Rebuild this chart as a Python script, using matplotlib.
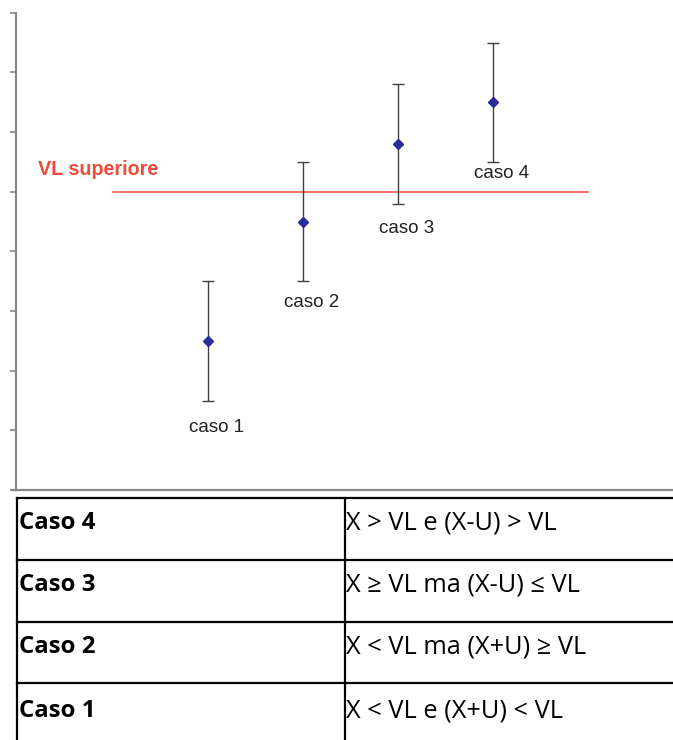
import matplotlib.pyplot as plt
from matplotlib.lines import Line2D

# chart data
cases = [1, 2, 3, 4]
values = [2.5, 4.5, 5.8, 6.5]
uncert = [1.0, 1.0, 1.0, 1.0]
case_labels = ["caso 1", "caso 2", "caso 3", "caso 4"]
label_y = [1.04, 3.15, 4.38, 5.30]
vl_value = 5.0
vl_span = [0, 5]
vl_label = "VL superiore"
y_ticks = list(range(0, 9))

# table data
table_cases = ["Caso 4", "Caso 3", "Caso 2", "Caso 1"]
table_conditions = ["X > VL e (X-U) > VL",
                    "X \u2265 VL ma (X-U) \u2264 VL",
                    "X < VL ma (X+U) \u2265 VL",
                    "X < VL e (X+U) < VL"]

W, H = 673, 740
fig = plt.figure(figsize=(W / 100, H / 100), dpi=100)

def fx(px):
    return px / W

def fy(py):
    return 1 - py / H

ax = fig.add_axes([fx(16), fy(490), fx(673 - 16), (490 - 12.7) / H])
ax.set_xlim(-1.021, 5.895)
ax.set_ylim(0, 8)

axis_col = "#878787"
for s in ["top", "right"]:
    ax.spines[s].set_visible(False)
for s in ["left", "bottom"]:
    ax.spines[s].set_color(axis_col)
    ax.spines[s].set_linewidth(1.6)
ax.set_xticks([])
ax.set_yticks(y_ticks)
ax.set_yticklabels([])
ax.tick_params(axis="y", direction="out", length=4.3, width=1.2, color=axis_col)
# bottom line sticks out a bit left of the y axis
ax.plot([-6 / 657, 0], [0, 0], transform=ax.transAxes, clip_on=False,
        color=axis_col, lw=1.6, solid_capstyle="butt")

red = "#f04a3a"
ax.plot(vl_span, [vl_value, vl_value], color=red, lw=1.1)
ax.text(-0.789, 5.37, vl_label, color=red, fontsize=14.2, fontweight="bold",
        family="Liberation Sans", ha="left", va="center")

ax.errorbar(cases, values, yerr=uncert, fmt="D", color="#2b2b99", markersize=5.3,
            ecolor="#3f3f3f", elinewidth=1.0, capsize=4.2, capthick=1.0, zorder=3)

for x, ly, lab in zip(cases, label_y, case_labels):
    ax.annotate(lab, xy=(x, ly), xytext=(6, 0), textcoords="offset points",
                ha="center", va="center", fontsize=13.5, family="Liberation Sans",
                color="#222222")

# table below the chart
row_edges = [497.5, 560, 621.7, 683, 745]
text_y = [523, 585, 647, 711]
left_x, mid_x = 16.5, 344.5
lw_tab = 1.6
for ry in row_edges:
    fig.add_artist(Line2D([fx(left_x), 1.0], [fy(ry), fy(ry)], color="black", lw=lw_tab))
for cx in [left_x, mid_x]:
    fig.add_artist(Line2D([fx(cx), fx(cx)], [fy(row_edges[0]), 0], color="black", lw=lw_tab))

tfam = ["Open Sans", "DejaVu Sans"]
for yc, c, cond in zip(text_y, table_cases, table_conditions):
    fig.text(fx(19), fy(yc), c, fontsize=17.3, fontweight="bold", family=tfam,
             ha="left", va="center")
    fig.text(fx(346), fy(yc), cond, fontsize=18.3, family=tfam,
             ha="left", va="center")

fig.savefig("out.png", dpi=100)
